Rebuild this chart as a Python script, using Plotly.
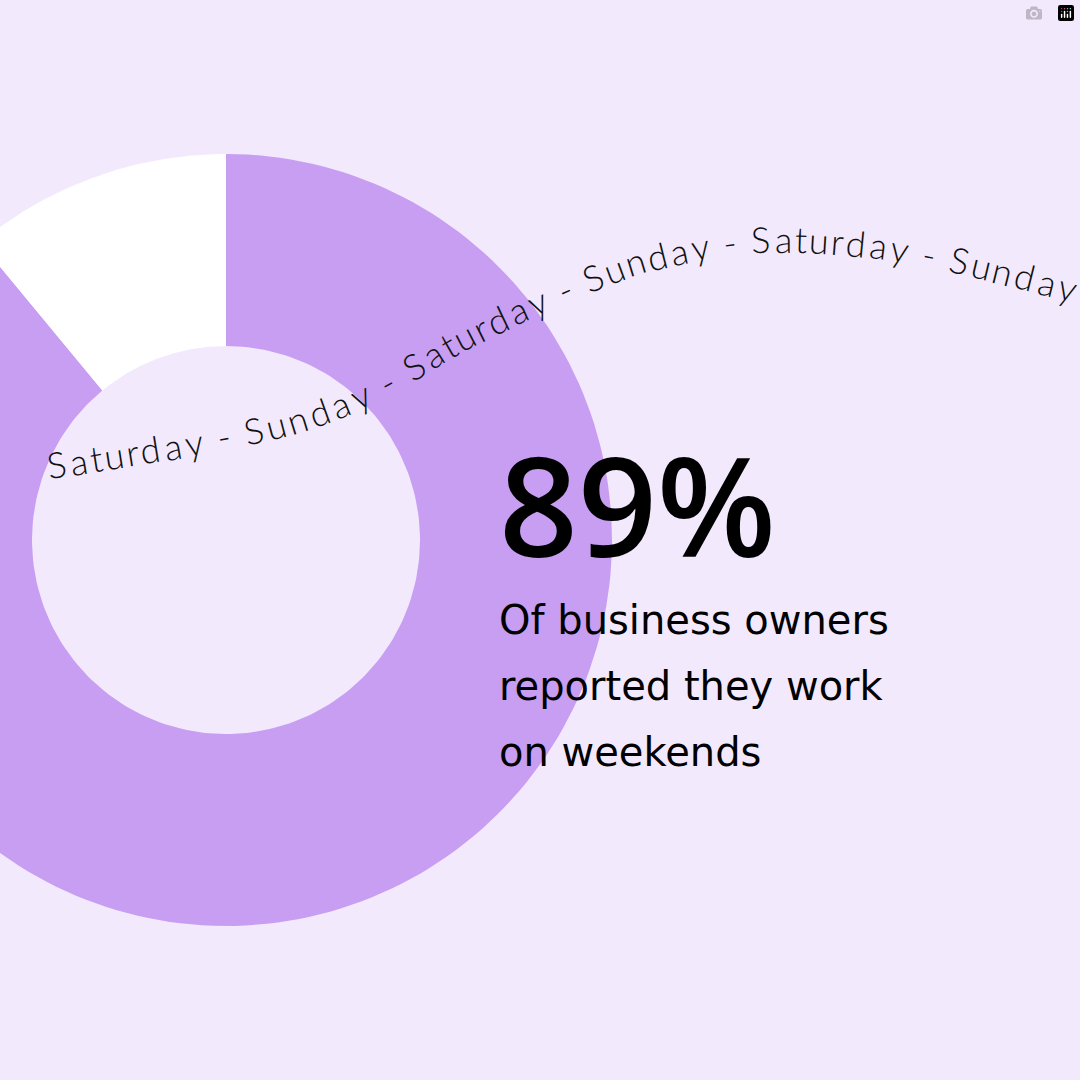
import numpy as np
import plotly.graph_objects as go

labels = ["Work on weekends", "Do not"]
values = [89, 11]
colors = ["#C79EF2", "#FFFFFF"]
headline = "89%"
subtitle = ["Of business owners", "reported they work", "on weekends"]
arc_text = "Saturday - Sunday - Saturday - Sunday - Saturday - Sunday"

W = 1080
cx, cy, R_out, R_in = 226, 540, 386, 194
fig = go.Figure()

start = 0.0
total = sum(values)
for lab, v, c in zip(labels, values, colors):
    a0, a1 = start, start + v / total * 2 * np.pi
    t = np.linspace(a0, a1, 200)
    xo = cx + R_out * np.sin(t); yo = cy - R_out * np.cos(t)
    xi = cx + R_in * np.sin(t[::-1]); yi = cy - R_in * np.cos(t[::-1])
    fig.add_trace(go.Scatter(x=np.r_[xo, xi, xo[:1]], y=np.r_[yo, yi, yo[:1]],
                             fill="toself", fillcolor=c, line=dict(width=0),
                             mode="lines", name=lab, hoverinfo="name"))
    start = a1

# text path (centre line) via Catmull-Rom
P = np.array([[45, 466], [205, 440], [300, 418], [380, 385], [460, 338], [540, 300],
              [640, 260], [750, 240], [850, 242], [950, 258], [1100, 295]], float)
pts = []
Pe = np.vstack([2 * P[0] - P[1], P, 2 * P[-1] - P[-2]])
for i in range(1, len(Pe) - 2):
    p0, p1, p2, p3 = Pe[i - 1], Pe[i], Pe[i + 1], Pe[i + 2]
    for u in np.linspace(0, 1, 60, endpoint=False):
        pts.append(0.5 * (2 * p1 + (-p0 + p2) * u + (2 * p0 - 5 * p1 + 4 * p2 - p3) * u**2
                          + (-p0 + 3 * p1 - 3 * p2 + p3) * u**3))
pts = np.array(pts)
seg = np.hypot(*np.diff(pts, axis=0).T)
cum = np.r_[0, np.cumsum(seg)]
L = cum[-1] - 20
wt = {" ": 0.3, "-": 0.45, "S": 0.6, "t": 0.36, "y": 0.55, "r": 0.38}
ws = np.array([wt.get(ch, 0.6) for ch in arc_text])
ws = ws / ws.sum() * L
s = 0
for ch, w in zip(arc_text, ws):
    mid = s + w / 2; s += w
    x = np.interp(mid, cum, pts[:, 0]); y = np.interp(mid, cum, pts[:, 1])
    x2 = np.interp(mid + 3, cum, pts[:, 0]); y2 = np.interp(mid + 3, cum, pts[:, 1])
    x1 = np.interp(mid - 3, cum, pts[:, 0]); y1 = np.interp(mid - 3, cum, pts[:, 1])
    ang = np.degrees(np.arctan2(y2 - y1, x2 - x1))
    fig.add_annotation(x=x, y=y, text=ch, showarrow=False, textangle=ang,
                       font=dict(family="Lato", size=36, color="#111", weight=300),
                       xanchor="center", yanchor="middle")

fig.add_annotation(x=497, y=503, text=headline, showarrow=False,
                   xanchor="left", yanchor="middle",
                   font=dict(family="Open Sans", size=138, color="#000", weight=600))
for i, line in enumerate(subtitle):
    fig.add_annotation(x=497, y=620 + 66 * i, text=line, showarrow=False,
                       xanchor="left", yanchor="middle",
                       font=dict(family="DejaVu Sans", size=40, color="#000"))

fig.update_layout(width=W, height=W, margin=dict(l=0, r=0, t=0, b=0),
                  paper_bgcolor="#F3E9FC", plot_bgcolor="#F3E9FC", showlegend=False,
                  xaxis=dict(range=[0, W], visible=False, fixedrange=True),
                  yaxis=dict(range=[W, 0], visible=False, fixedrange=True))
fig.write_html("out.html", post_script="document.body.style.margin='0';")
